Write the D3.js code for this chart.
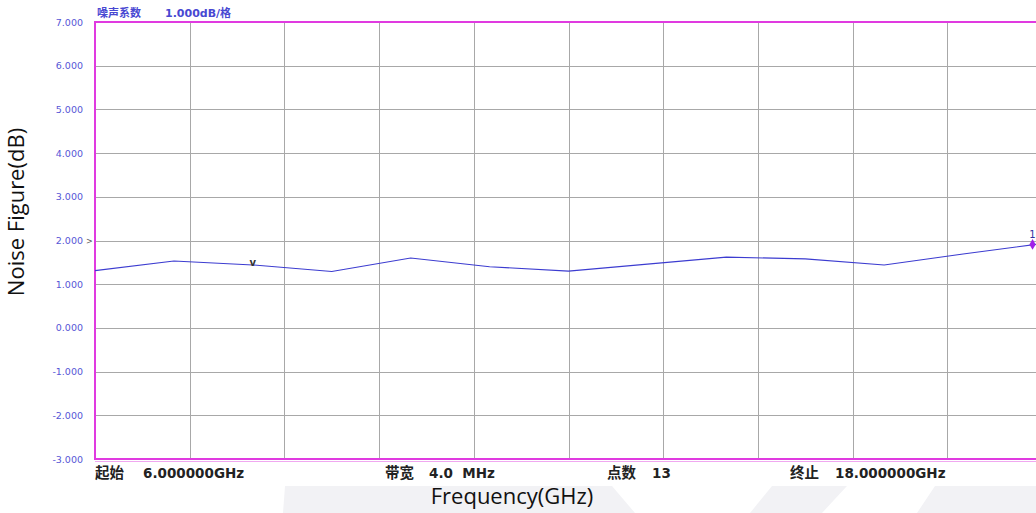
<!DOCTYPE html>
<html>
<head>
<meta charset="utf-8">
<script src="https://cdn.jsdelivr.net/npm/d3@7/dist/d3.min.js"></script>
<style>
	body { margin: 0; background: #fff; }
	.grid line { stroke: #a8a8a8; stroke-width: 1px; }
	.ylab { font-family: "DejaVu Sans", sans-serif; font-size: 9.5px; fill: #5656d6; }
	.info { font-family: "DejaVu Sans", sans-serif; font-size: 13.5px; font-weight: bold; fill: #222; white-space: pre; }
	.cjk { font-family: "Noto Sans CJK SC", sans-serif; font-weight: bold; }
	.axis-title { font-family: "Open Sans", sans-serif; font-size: 22px; fill: #111; }
</style>
</head>
<body>
<script>

var width = 1036,
	height = 513;

// 13 sweep points, 6-18 GHz
var freqs = [6, 7, 8, 9, 10, 11, 12, 13, 14, 15, 16, 17, 18];
var noiseFigure = [1.31, 1.53, 1.44, 1.29, 1.60, 1.40, 1.30, 1.46, 1.62, 1.58, 1.44, 1.69, 1.93];

var yTicks = [7, 6, 5, 4, 3, 2, 1, 0, -1, -2, -3];
var xDivs = [6, 7.2, 8.4, 9.6, 10.8, 12, 13.2, 14.4, 15.6, 16.8, 18];

var marker1 = { freq: 17.88, nf: 1.91, label: "1" };
var marker2 = { freq: 8, nf: 1.44, label: "v" };

var infoNames = ["起始", "带宽", "点数", "终止"];
var infoValues = ["6.000000GHz", "4.0  MHz", "13", "18.000000GHz"];

// layout
var mLeft = 95, mTop = 22, mRight = 1042, mBottom = 459;
var infoX = [[95, 143], [385, 429], [607, 652], [790, 835]];

var x = d3.scaleLinear().domain([6, 18]).range([mLeft, mRight]);
var y = d3.scaleLinear().domain([-3, 7]).range([mBottom, mTop]);

var svg = d3.select("body").append("svg")
	.attr("width", width)
	.attr("height", height);

// faint watermark stripes at the bottom
var wm = [
	[[285, 486], [612, 486], [635, 513], [283, 513]],
	[[772, 486], [847, 486], [822, 513], [750, 513]],
	[[935, 486], [1036, 486], [1036, 513], [917, 513]]
];
svg.append("g").selectAll("path")
	.data(wm)
  .enter().append("path")
	.attr("d", function(p) { return "M" + p.join("L") + "Z"; })
	.attr("fill", "#f2f2f5");

var grid = svg.append("g").attr("class", "grid");
grid.selectAll("line.h")
	.data(yTicks.slice(1, -1))
  .enter().append("line")
	.attr("class", "h")
	.attr("x1", mLeft).attr("x2", mRight)
	.attr("y1", function(d) { return Math.round(y(d)) + 0.5; })
	.attr("y2", function(d) { return Math.round(y(d)) + 0.5; });
grid.selectAll("line.v")
	.data(xDivs.slice(1, -1))
  .enter().append("line")
	.attr("class", "v")
	.attr("y1", mTop).attr("y2", mBottom)
	.attr("x1", function(d) { return Math.round(x(d)) + 0.5; })
	.attr("x2", function(d) { return Math.round(x(d)) + 0.5; });

// magenta frame
svg.append("rect")
	.attr("x", mLeft).attr("y", mTop)
	.attr("width", mRight - mLeft).attr("height", mBottom - mTop)
	.attr("fill", "none")
	.attr("stroke", "#e03ae0")
	.attr("stroke-width", 2);
svg.append("line")
	.attr("x1", mLeft).attr("x2", width)
	.attr("y1", mBottom + 2.5).attr("y2", mBottom + 2.5)
	.attr("stroke", "#f0a8f0").attr("stroke-width", 1);

// y labels (plain hyphen for negatives, like the instrument)
svg.append("g").selectAll("text")
	.data(yTicks)
  .enter().append("text")
	.attr("class", "ylab")
	.attr("x", 83)
	.attr("y", function(d) { return y(d) + 3.5; })
	.attr("text-anchor", "end")
	.text(function(d) { return d.toFixed(3); });

svg.append("text")
	.attr("x", 86).attr("y", y(2) + 3)
	.attr("font-family", "DejaVu Sans").attr("font-size", 8)
	.attr("fill", "#555")
	.text(">");

// title
var title = svg.append("text")
	.attr("x", 97).attr("y", 17)
	.attr("fill", "#4848d2")
	.attr("font-size", 11)
	.attr("font-weight", "bold");
title.append("tspan").attr("class", "cjk").text("噪声系数");
title.append("tspan").attr("x", 165).attr("font-family", "DejaVu Sans").text("1.000dB/");
title.append("tspan").attr("class", "cjk").text("格");

// trace
var line = d3.line()
	.x(function(d, i) { return x(freqs[i]); })
	.y(function(d) { return y(d); });

svg.append("path")
	.attr("d", line(noiseFigure))
	.attr("fill", "none")
	.attr("stroke", "#3c3cd0")
	.attr("stroke-width", 1.1);

// markers
svg.append("path")
	.attr("d", d3.symbol().type(d3.symbolDiamond).size(34)())
	.attr("transform", "translate(" + x(marker1.freq) + "," + y(marker1.nf) + ")")
	.attr("fill", "#a020e8");
svg.append("text")
	.attr("x", x(marker1.freq)).attr("y", y(marker1.nf) - 6)
	.attr("text-anchor", "middle")
	.attr("font-family", "DejaVu Sans").attr("font-size", 10)
	.attr("fill", "#3030a0")
	.text(marker1.label);
svg.append("text")
	.attr("x", x(marker2.freq)).attr("y", y(marker2.nf) + 1)
	.attr("text-anchor", "middle")
	.attr("font-family", "DejaVu Sans").attr("font-size", 10).attr("font-weight", "bold")
	.attr("fill", "#333")
	.text(marker2.label);

// info line under the plot
var info = svg.append("g").selectAll("text")
	.data(infoNames)
  .enter().append("text")
	.attr("class", "info")
	.attr("y", 478);
info.append("tspan").attr("class", "cjk")
	.attr("font-size", 14.5)
	.attr("x", function(d, i) { return infoX[i][0]; })
	.text(function(d) { return d; });
info.append("tspan")
	.attr("x", function(d, i) { return infoX[i][1]; })
	.text(function(d, i) { return infoValues[i]; });

// axis titles
svg.append("text")
	.attr("class", "axis-title")
	.attr("x", 512).attr("y", 504)
	.attr("text-anchor", "middle")
	.text("Frequency(GHz)");
svg.append("text")
	.attr("class", "axis-title")
	.attr("transform", "translate(24,212) rotate(-90)")
	.attr("text-anchor", "middle")
	.text("Noise Figure(dB)");
</script>
</body>
</html>
